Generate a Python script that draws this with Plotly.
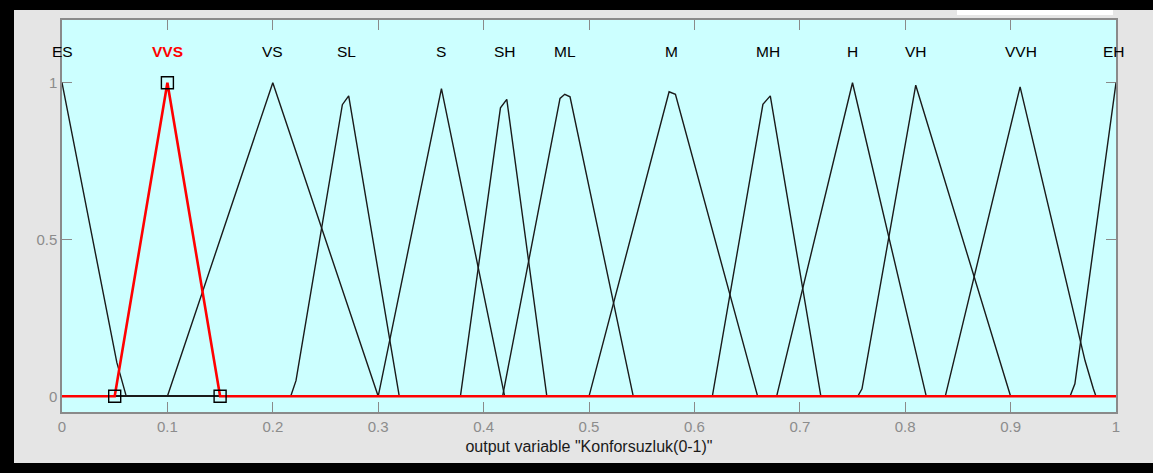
import plotly.graph_objects as go

# ---- data ----
mf_names = ["ES", "VS", "SL", "S", "SH", "ML", "M", "MH", "H", "VH", "VVH", "EH"]
mf_x = {
    "ES":  [0.0, 0.052, 0.061, 1.0],
    "VS":  [0.0, 0.1, 0.2, 0.3, 1.0],
    "SL":  [0.0, 0.217, 0.222, 0.266, 0.272, 0.32, 1.0],
    "S":   [0.0, 0.3, 0.36, 0.42, 1.0],
    "SH":  [0.0, 0.378, 0.416, 0.422, 0.46, 1.0],
    "ML":  [0.0, 0.418, 0.4725, 0.477, 0.482, 0.542, 1.0],
    "M":   [0.0, 0.5, 0.576, 0.582, 0.66, 1.0],
    "MH":  [0.0, 0.617, 0.665, 0.672, 0.72, 1.0],
    "H":   [0.0, 0.678, 0.75, 0.82, 1.0],
    "VH":  [0.0, 0.755, 0.759, 0.81, 0.9, 1.0],
    "VVH": [0.0, 0.838, 0.909, 0.9706, 0.9785, 0.981, 1.0],
    "EH":  [0.0, 0.9564, 0.961, 1.0],
}
mf_y = {
    "ES":  [1.0, 0.108, 0.0, 0.0],
    "VS":  [0.0, 0.0, 1.0, 0.0, 0.0],
    "SL":  [0.0, 0.0, 0.05, 0.93, 0.958, 0.0, 0.0],
    "S":   [0.0, 0.0, 0.981, 0.0, 0.0],
    "SH":  [0.0, 0.0, 0.92, 0.947, 0.0, 0.0],
    "ML":  [0.0, 0.0, 0.95, 0.963, 0.955, 0.0, 0.0],
    "M":   [0.0, 0.0, 0.971, 0.963, 0.0, 0.0],
    "MH":  [0.0, 0.0, 0.931, 0.958, 0.0, 0.0],
    "H":   [0.0, 0.0, 1.0, 0.0, 0.0],
    "VH":  [0.0, 0.0, 0.024, 0.992, 0.0, 0.0],
    "VVH": [0.0, 0.0, 0.987, 0.114, 0.024, 0.0, 0.0],
    "EH":  [0.0, 0.0, 0.04, 1.0],
}
sel_name = "VVS"
sel_x = [0.0, 0.05, 0.1, 0.15, 1.0]
sel_y = [0.0, 0.0, 1.0, 0.0, 0.0]
sel_handles_x = [0.05, 0.1, 0.15]
sel_handles_y = [0.0, 1.0, 0.0]

label_names = ["ES", "VVS", "VS", "SL", "S", "SH", "ML", "M", "MH", "H", "VH", "VVH", "EH"]
label_x = [0.0, 0.1, 0.2, 0.27, 0.36, 0.42, 0.477, 0.578, 0.67, 0.75, 0.81, 0.91, 0.998]
label_y = 1.1

x_ticks = [0, 0.1, 0.2, 0.3, 0.4, 0.5, 0.6, 0.7, 0.8, 0.9, 1]
x_ticklabels = ["0", "0.1", "0.2", "0.3", "0.4", "0.5", "0.6", "0.7", "0.8", "0.9", "1"]
y_ticks = [0, 0.5, 1]
y_ticklabels = ["0", "0.5", "1"]
x_title = 'output variable "Konforsuzluk(0-1)"'

# ---- figure ----
W, H = 1153, 473
ML_, MR_, MT_, MB_ = 62, 37, 20, 61
PW, PH = W - ML_ - MR_, H - MT_ - MB_

def px2x(px):
    return (px - ML_) / PW

def py2y(py):
    return (H - MB_ - py) / PH

FONT = "Liberation Sans, Arial, sans-serif"
fig = go.Figure()

for name in mf_names:
    fig.add_trace(go.Scatter(x=mf_x[name], y=mf_y[name], mode="lines",
                             line=dict(color="#1a1a1a", width=1.4),
                             hoverinfo="skip", showlegend=False))

fig.add_trace(go.Scatter(x=sel_x, y=sel_y, mode="lines",
                         line=dict(color="#ff0000", width=2.6),
                         hoverinfo="skip", showlegend=False))
fig.add_trace(go.Scatter(x=sel_handles_x, y=sel_handles_y, mode="markers",
                         marker=dict(symbol="square-open", size=12,
                                     color="#000000", line=dict(width=1.4, color="#000000")),
                         hoverinfo="skip", showlegend=False))

for nm, lx in zip(label_names, label_x):
    sel = nm == sel_name
    fig.add_annotation(x=lx, y=label_y, xref="x", yref="y", text=nm, showarrow=False,
                       font=dict(family=FONT, size=15.5, color="#ff0000" if sel else "#000000",
                                 weight="bold" if sel else "normal"),
                       xanchor="center", yanchor="middle")

shapes = [
    # outer black border pieces
    dict(type="rect", xref="paper", yref="paper", x0=px2x(0), x1=px2x(14), y0=py2y(473), y1=py2y(0),
         fillcolor="#000000", line=dict(width=0), layer="below"),
    dict(type="rect", xref="paper", yref="paper", x0=px2x(0), x1=px2x(1153), y0=py2y(10), y1=py2y(0),
         fillcolor="#000000", line=dict(width=0), layer="below"),
    dict(type="rect", xref="paper", yref="paper", x0=px2x(0), x1=px2x(1153), y0=py2y(473), y1=py2y(463),
         fillcolor="#000000", line=dict(width=0), layer="below"),
    # white box at top right
    dict(type="rect", xref="paper", yref="paper", x0=px2x(957), x1=px2x(1113), y0=py2y(15), y1=py2y(10),
         fillcolor="#ffffff", line=dict(width=0), layer="below"),
]
fig.update_layout(shapes=shapes)

fig.update_xaxes(range=[0, 1], tickvals=x_ticks, ticktext=x_ticklabels,
                 ticks="inside", ticklen=10, tickcolor="#8a8a8a", tickwidth=1.3,
                 showline=True, linecolor="#8a8a8a", linewidth=1.5, mirror="ticks",
                 showgrid=False, zeroline=False, layer="below traces",
                 tickfont=dict(family=FONT, size=15, color="#8c8c8c"),
                 title=dict(text=x_title, font=dict(family=FONT, size=16, color="#1a1a1a"), standoff=7))
fig.update_yaxes(range=[-0.05, 1.2], tickvals=y_ticks, ticktext=y_ticklabels,
                 ticks="inside", ticklen=10, tickcolor="#8a8a8a", tickwidth=1.3,
                 showline=True, linecolor="#8a8a8a", linewidth=1.5, mirror="ticks",
                 showgrid=False, zeroline=False, layer="below traces",
                 tickfont=dict(family=FONT, size=15, color="#8c8c8c"))

fig.update_layout(width=W, height=H, autosize=False,
                  margin=dict(l=ML_, r=MR_, t=MT_, b=MB_, pad=0),
                  paper_bgcolor="#e5e5e5", plot_bgcolor="#ccffff",
                  showlegend=False, hovermode=False)

fig.write_html("out.html", config={"displayModeBar": False})
